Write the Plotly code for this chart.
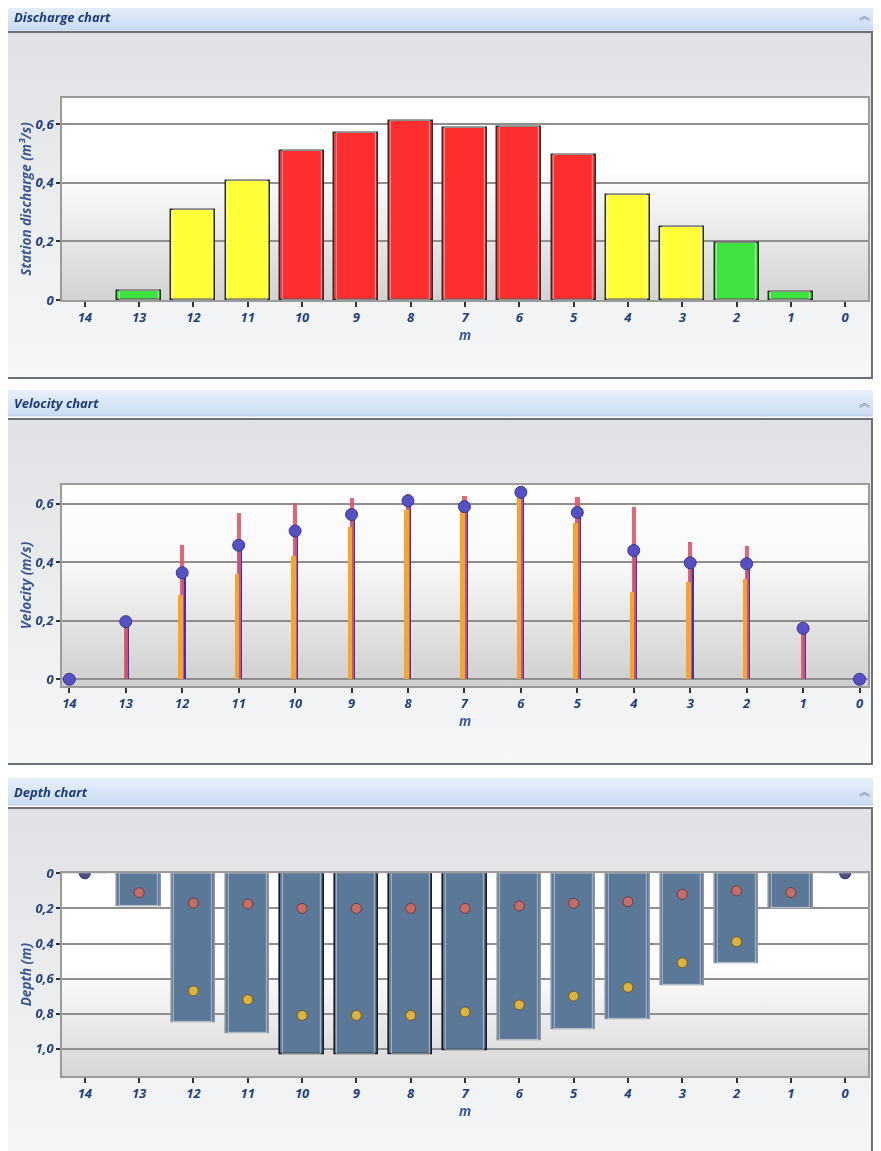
import base64
import plotly.graph_objects as go

# ---------------- data ----------------
stations = [14, 13, 12, 11, 10, 9, 8, 7, 6, 5, 4, 3, 2, 1, 0]
station_labels = ["14", "13", "12", "11", "10", "9", "8", "7", "6", "5", "4", "3", "2", "1", "0"]

discharge = [0, 0.031, 0.308, 0.407, 0.509, 0.569, 0.613, 0.589, 0.592, 0.496, 0.357, 0.249, 0.194, 0.026, 0]

vel_mean = [0, 0.197, 0.364, 0.458, 0.507, 0.563, 0.610, 0.590, 0.639, 0.570, 0.440, 0.398, 0.395, 0.174, 0]
vel_upper = [None, 0.19, 0.459, 0.567, 0.602, 0.619, 0.634, 0.627, 0.620, 0.624, 0.588, 0.470, 0.457, 0.170, None]
vel_lower = [None, None, 0.288, 0.359, 0.423, 0.522, 0.579, 0.607, 0.658, 0.533, 0.300, 0.334, 0.342, None, None]

depth = [0, 0.19, 0.85, 0.91, 1.03, 1.03, 1.03, 1.01, 0.95, 0.89, 0.83, 0.64, 0.51, 0.20, 0]
point_upper = [None, 0.11, 0.17, 0.175, 0.20, 0.20, 0.20, 0.20, 0.186, 0.171, 0.162, 0.12, 0.10, 0.11, None]
point_lower = [None, None, 0.67, 0.72, 0.81, 0.81, 0.81, 0.79, 0.75, 0.70, 0.65, 0.51, 0.39, None, None]
bank_depth = [0, None, None, None, None, None, None, None, None, None, None, None, None, None, 0]

q_ticks = [0, 0.2, 0.4, 0.6]
q_ticktext = ["0", "0,2", "0,4", "0,6"]
v_ticks = [0, 0.2, 0.4, 0.6]
v_ticktext = ["0", "0,2", "0,4", "0,6"]
d_ticks = [0, 0.2, 0.4, 0.6, 0.8, 1.0]
d_ticktext = ["0", "0,2", "0,4", "0,6", "0,8", "1,0"]

panel_titles = ["Discharge chart", "Velocity chart", "Depth chart"]
y_titles = ["Station discharge (m³/s)", "Velocity (m/s)", "Depth (m)"]
x_title = "m"

# ---------------- geometry helpers ----------------
W, H = 881, 1151
OFF = 8  # page margin of the html body


def px(x):
    return (x - OFF) / W


def py(y):
    return 1 - (y - OFF) / H


def grad(stops, horizontal=False):
    st = "".join(f'<stop offset="{o}" stop-color="{c}"/>' for o, c in stops)
    x2, y2 = ("1", "0") if horizontal else ("0", "1")
    svg = (f'<svg xmlns="http://www.w3.org/2000/svg" width="100" height="100" viewBox="0 0 100 100" '
           f'preserveAspectRatio="none"><defs><linearGradient id="g" x1="0" y1="0" x2="{x2}" y2="{y2}">'
           f'{st}</linearGradient></defs><rect x="0" y="0" width="100" height="100" fill="url(#g)"/></svg>')
    return "data:image/svg+xml;base64," + base64.b64encode(svg.encode()).decode()


FONT = "Open Sans"
BLUE_TXT = "#24407b"
TITLE_TXT = "#3a5896"

panels = [
    dict(h=(3, 30), p=(32, 378), plot=(98, 300)),
    dict(h=(390, 416), p=(419, 764), plot=(485, 686)),
    dict(h=(778, 805), p=(808, 1170), plot=(873.3, 1076)),
]
PX0, PX1 = 62, 868
RIGHT = 872  # right edge of the panels (visible area)

fig = go.Figure()


# ---------------- discharge bars ----------------
def q_color(v):
    if v < 0.2:
        return "#3fe23f"
    if v < 0.45:
        return "#ffff38"
    return "#ff2e2e"


q_line_w = [0 if v == 0 else 1.5 for v in discharge]
fig.add_trace(go.Bar(
    x=stations, y=discharge, width=0.81,
    marker=dict(color=[q_color(v) for v in discharge],
                line=dict(color="#2e2e2e", width=q_line_w)),
    xaxis="x", yaxis="y", showlegend=False, hoverinfo="x+y"))
fig.add_trace(go.Bar(
    x=stations, y=discharge, width=0.72,
    marker=dict(color="rgba(0,0,0,0)",
                line=dict(color="rgba(255,255,255,0.45)", width=[0 if v == 0 else 1.2 for v in discharge])),
    xaxis="x", yaxis="y", showlegend=False, hoverinfo="skip"))

# ---------------- velocity ----------------
fig.add_trace(go.Bar(x=stations, y=vel_mean, width=0.07, offset=-0.06,
                     marker=dict(color="#3a35b8", line=dict(width=0)),
                     xaxis="x2", yaxis="y2", showlegend=False))
fig.add_trace(go.Bar(x=stations, y=vel_upper, width=0.075, offset=-0.04, opacity=0.9,
                     marker=dict(color="#dc5668", line=dict(width=0)),
                     xaxis="x2", yaxis="y2", showlegend=False))
fig.add_trace(go.Bar(x=stations, y=vel_lower, width=0.08, offset=-0.01,
                     marker=dict(color="#f3a52c", line=dict(width=0)),
                     xaxis="x2", yaxis="y2", showlegend=False))
fig.add_trace(go.Scatter(x=stations, y=vel_mean, mode="markers", cliponaxis=False,
                         marker=dict(size=12, color="#5650c2", line=dict(color="#3b3590", width=1)),
                         xaxis="x2", yaxis="y2", showlegend=False))

# ---------------- depth ----------------
d_line = ["#8d959e"] * len(stations)
for s in (10, 9, 8, 7):
    d_line[stations.index(s)] = "#1c1c1c"
fig.add_trace(go.Bar(x=stations, y=depth, width=0.8,
                     marker=dict(color="#5b7898", line=dict(color=d_line, width=1.6)),
                     xaxis="x3", yaxis="y3", showlegend=False))
fig.add_trace(go.Bar(x=stations, y=depth, width=0.7,
                     marker=dict(color="rgba(0,0,0,0)", line=dict(color="rgba(210,220,232,0.55)", width=1.2)),
                     xaxis="x3", yaxis="y3", showlegend=False, hoverinfo="skip"))
fig.add_trace(go.Scatter(x=stations, y=point_upper, mode="markers",
                         marker=dict(size=10, color="#c46e6b", line=dict(color="#6d3b3b", width=1)),
                         xaxis="x3", yaxis="y3", showlegend=False))
fig.add_trace(go.Scatter(x=stations, y=point_lower, mode="markers",
                         marker=dict(size=10, color="#d9b440", line=dict(color="#6e5a20", width=1)),
                         xaxis="x3", yaxis="y3", showlegend=False))
fig.add_trace(go.Scatter(x=stations, y=bank_depth, mode="markers",
                         marker=dict(size=11, color="#4e4e86", line=dict(color="#33335a", width=1)),
                         xaxis="x3", yaxis="y3", showlegend=False))

# ---------------- decorations ----------------
images = []
shapes = []
annotations = []
for i, pn in enumerate(panels):
    ht, hb = pn["h"]
    pt, pb = pn["p"]
    images.append(dict(source=grad([(0, "#e8f0fb"), (1, "#cbdcf3")]), xref="paper", yref="paper",
                       x=px(4), y=py(ht), sizex=px(RIGHT + 1) - px(4), sizey=py(ht) - py(hb),
                       sizing="stretch", layer="below", xanchor="left", yanchor="top"))
    images.append(dict(source=grad([(0, "#dfe1e4"), (0.55, "#eceef0"), (1, "#f6f7f8")]), xref="paper", yref="paper",
                       x=px(7), y=py(pt), sizex=px(RIGHT) - px(7), sizey=py(pt) - py(pb),
                       sizing="stretch", layer="below", xanchor="left", yanchor="top"))
    shapes.append(dict(type="rect", xref="paper", yref="paper", x0=px(7), x1=px(RIGHT),
                       y0=py(pb), y1=py(pt), line=dict(color="#6b7076", width=2), layer="above"))
    shapes.append(dict(type="line", xref="paper", yref="paper", x0=px(4), x1=px(RIGHT + 1),
                       y0=py(hb), y1=py(hb), line=dict(color="#b9cbe2", width=1), layer="above"))
    annotations.append(dict(text=f"<b><i>{panel_titles[i]}</i></b>", xref="paper", yref="paper",
                            x=px(12), y=py((ht + hb) / 2), xanchor="left", yanchor="middle",
                            showarrow=False, font=dict(family=FONT, size=13, color="#1f3a78")))
    annotations.append(dict(text="︽", xref="paper", yref="paper",
                            x=px(864), y=py((ht + hb) / 2 - 1), xanchor="center", yanchor="middle",
                            showarrow=False, font=dict(family="Noto Sans CJK SC", size=11, color="#6f82a3")))

images.append(dict(source=grad([(0, "#ffffff"), (0.35, "#ffffff"), (1, "#d3d3d3")]),
                   xref="x domain", yref="y domain", x=0, y=1, sizex=1, sizey=1,
                   sizing="stretch", layer="below", xanchor="left", yanchor="top"))
images.append(dict(source=grad([(0, "#ffffff"), (0.4, "#f8f8f8"), (1, "#cecece")]),
                   xref="x2 domain", yref="y2 domain", x=0, y=1, sizex=1, sizey=1,
                   sizing="stretch", layer="below", xanchor="left", yanchor="top"))
images.append(dict(source=grad([(0, "#ffffff"), (0.45, "#ffffff"), (1, "#d6d6d6")]),
                   xref="x3 domain", yref="y3 domain", x=0, y=1, sizex=1, sizey=1,
                   sizing="stretch", layer="below", xanchor="left", yanchor="top"))

shapes.append(dict(type="rect", xref="x2 domain", yref="y2", x0=0, x1=1, y0=-0.023, y1=0,
                   fillcolor="#b5b5b5", line=dict(width=0), layer="below"))
shapes.append(dict(type="rect", xref="x3 domain", yref="y3", x0=0, x1=1, y0=1.0, y1=1.155,
                   fillcolor="#dadada", line=dict(width=0), layer="below"))

tickfont = dict(family=FONT, size=13, color=BLUE_TXT, weight="bold", style="italic")
titlefont = dict(family=FONT, size=13.5, color=TITLE_TXT, weight="bold", style="italic")


def xaxis(anchor, rng):
    return dict(domain=[px(PX0), px(PX1)], anchor=anchor, range=rng, automargin=False,
                tickmode="array", tickvals=stations, ticktext=station_labels,
                ticks="outside", ticklen=5, tickwidth=2, tickcolor="#333333",
                tickfont=tickfont, showgrid=False, zeroline=False,
                showline=True, mirror=True, linecolor="#9b9b9b", linewidth=1.5,
                title=dict(text=f"<i>{x_title}</i>", font=titlefont, standoff=2))


def yaxis(anchor, pn, rng, tv, tt, title):
    t, b = pn["plot"]
    return dict(domain=[py(b), py(t)], anchor=anchor, range=rng, automargin=False,
                tickmode="array", tickvals=tv, ticktext=tt,
                ticks="outside", ticklen=4, tickwidth=2, tickcolor="#333333",
                tickfont=tickfont, showgrid=True, gridcolor="#8e8e8e", gridwidth=1.5,
                zeroline=False, showline=True, mirror=True, linecolor="#9b9b9b", linewidth=1.5,
                title=dict(text=title, font=titlefont, standoff=1))


fig.update_layout(
    width=W, height=H, margin=dict(l=0, r=0, t=0, b=0, autoexpand=False),
    paper_bgcolor="#ffffff", plot_bgcolor="rgba(0,0,0,0)",
    barmode="overlay", bargap=0, showlegend=False,
    xaxis=xaxis("y", [14.42, -0.42]),
    yaxis=yaxis("x", panels[0], [0, 0.69], q_ticks, q_ticktext, y_titles[0]),
    xaxis2=xaxis("y2", [14.13, -0.15]),
    yaxis2=yaxis("x2", panels[1], [-0.023, 0.664], v_ticks, v_ticktext, y_titles[1]),
    xaxis3=xaxis("y3", [14.42, -0.42]),
    yaxis3=yaxis("x3", panels[2], [1.155, 0], d_ticks, d_ticktext, y_titles[2]),
    images=images, shapes=shapes, annotations=annotations,
)

fig.write_html("out.html")
